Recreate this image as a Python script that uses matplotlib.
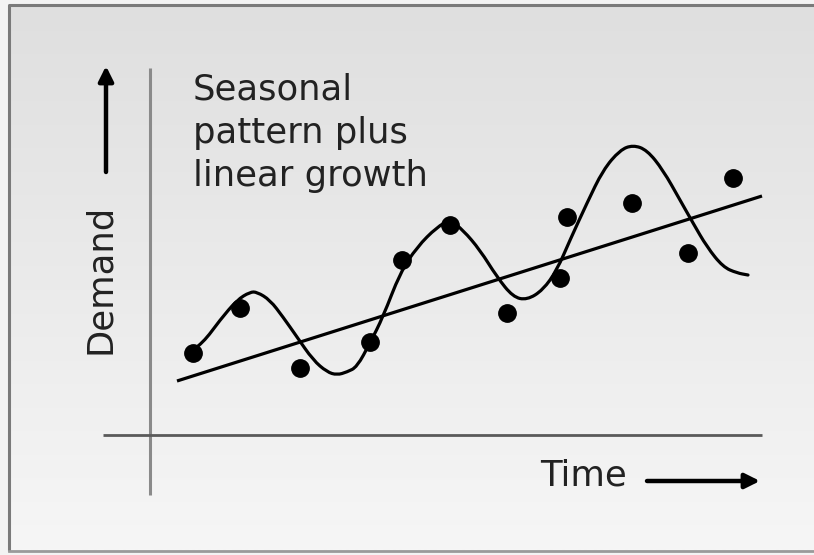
import numpy as np
import matplotlib
matplotlib.use("Agg")
import matplotlib.pyplot as plt
from matplotlib.path import Path
from matplotlib.patches import PathPatch
from matplotlib.colors import LinearSegmentedColormap

# ---- data (time, demand) ----
obs_time = [4.3, 9.0, 15.0, 22.0, 25.2, 30.0, 35.7, 41.0, 41.7, 48.2, 53.8, 58.3]
obs_demand = [8.2, 12.7, 6.7, 9.3, 17.5, 21.0, 12.2, 15.7, 21.8, 23.2, 18.2, 25.7]

trend_time = [2.7, 61.2]
trend_demand = [5.4, 23.9]

seasonal_time = [4.3, 5.3, 7.0, 8.7, 10.0, 10.7, 12.0, 13.3, 14.7, 16.3, 17.7, 18.7,
                 19.7, 20.7, 22.0, 23.3, 25.0, 26.7, 28.7, 30.0, 31.3, 33.0, 34.7,
                 36.3, 37.7, 39.3, 40.7, 42.0, 43.7, 45.3, 47.0, 48.3, 49.7, 51.3,
                 53.0, 54.3, 55.7, 57.3, 58.7, 59.8]
seasonal_demand = [8.5, 9.2, 11.5, 13.5, 14.3, 14.3, 13.5, 11.8, 9.8, 7.5, 6.3, 6.0,
                   6.3, 6.8, 9.2, 11.8, 16.2, 18.8, 20.8, 21.5, 20.5, 18.5, 15.8,
                   13.8, 13.5, 14.5, 16.5, 19.5, 23.2, 26.5, 28.5, 29.0, 28.5, 26.5,
                   23.5, 21.2, 18.8, 16.8, 16.2, 16.0]

title_text = "Seasonal\npattern plus\nlinear growth"
x_label = "Time"
y_label = "Demand"

FONT = "DejaVu Sans"
FS = 25.5

fig = plt.figure(figsize=(8.14, 5.55), dpi=100)

# ---- decorative background (pixel coordinates) ----
bg = fig.add_axes([0, 0, 1, 1], zorder=0)
bg.axis("off")
bg.add_patch(plt.Rectangle((0, 0), 814, 555, color="#f3f3f3", zorder=0))
grad = np.linspace(0, 1, 256).reshape(-1, 1)
cmap = LinearSegmentedColormap.from_list("g", ["#dfdfdf", "#f6f6f6"])
bg.imshow(grad, cmap=cmap, aspect="auto", extent=(10, 814, 550, 6), zorder=1)
bg.plot([9, 9, 814], [551, 5, 5], color="#7a7a7a", lw=2.2, zorder=2,
        solid_capstyle="butt")
bg.plot([9, 814], [551, 551], color="#9a9a9a", lw=2.0, zorder=2)
bg.set_xlim(0, 814)
bg.set_ylim(555, 0)

# ---- chart axes (time / demand units) ----
ax = fig.add_axes([0, 0, 1, 1], zorder=1)
ax.set_xlim(-15, 66.4)
ax.set_ylim(-12, 43.5)
ax.patch.set_alpha(0)
ax.axis("off")

# axis lines
ax.plot([0, 0], [-6.0, 36.7], color="#8a8a8a", lw=2.2, solid_capstyle="butt")
ax.plot([-4.7, 61.2], [0, 0], color="#5a5a5a", lw=2.0, solid_capstyle="butt")

# trend line
ax.plot(trend_time, trend_demand, color="black", lw=2.3, solid_capstyle="butt")

# seasonal curve: smooth quadratic Bezier path using the read points as controls
pts = list(zip(seasonal_time, seasonal_demand))
verts = [pts[0]]
codes = [Path.MOVETO]
for i in range(1, len(pts) - 1):
    mid = ((pts[i][0] + pts[i + 1][0]) / 2, (pts[i][1] + pts[i + 1][1]) / 2)
    verts += [pts[i], mid]
    codes += [Path.CURVE3, Path.CURVE3]
verts.append(pts[-1])
codes.append(Path.LINETO)
ax.add_patch(PathPatch(Path(verts, codes), fill=False, edgecolor="black",
                       lw=2.3, capstyle="round", joinstyle="round"))

# observations
ax.plot(obs_time, obs_demand, "o", color="black", markersize=12.5, lw=0)

# arrows
ax.annotate("", xy=(-4.4, 36.9), xytext=(-4.4, 26.3),
            arrowprops=dict(arrowstyle="-|>", lw=3.2, color="black",
                            mutation_scale=22, shrinkA=0, shrinkB=0))
ax.annotate("", xy=(61.0, -4.6), xytext=(49.7, -4.6),
            arrowprops=dict(arrowstyle="-|>", lw=3.2, color="black",
                            mutation_scale=22, shrinkA=0, shrinkB=0))

# texts
ax.text(4.3, 36.2, title_text, fontsize=FS, family=FONT, color="#222222",
        ha="left", va="top", linespacing=1.33)
ax.text(39.0, -4.0, x_label, fontsize=FS, family=FONT, color="#222222",
        ha="left", va="center")
ax.text(-5.0, 15.6, y_label, fontsize=FS, family=FONT, color="#222222",
        ha="center", va="center", rotation=90)

fig.savefig("out.png", dpi=100)
